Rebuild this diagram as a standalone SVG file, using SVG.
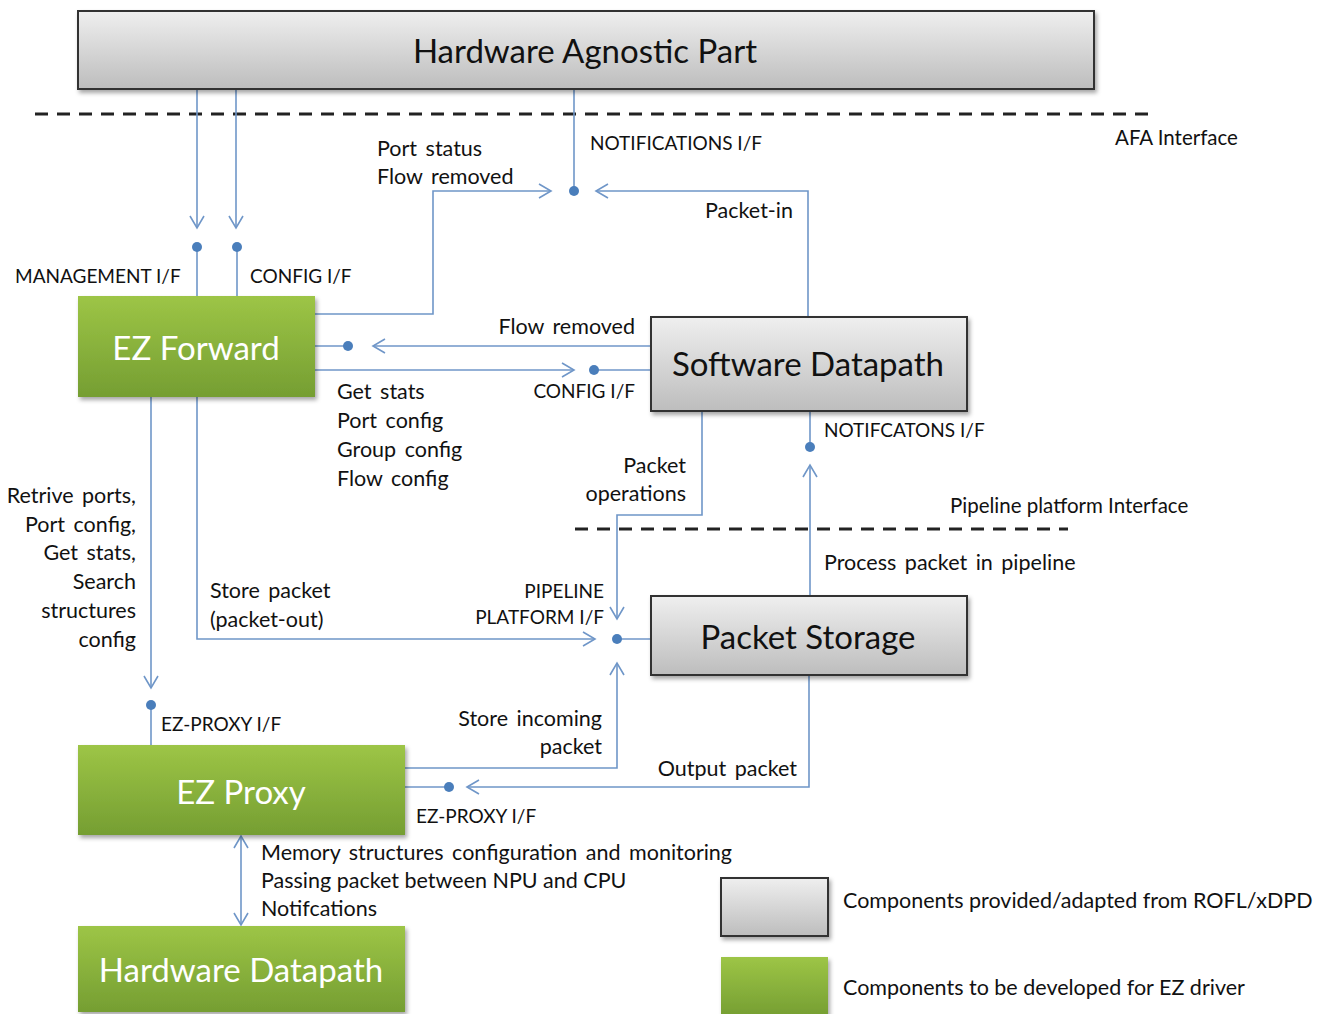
<svg xmlns="http://www.w3.org/2000/svg" width="1333" height="1014" viewBox="0 0 1333 1014">
  <defs>
    <linearGradient id="grayFill" x1="0" y1="0" x2="0" y2="1">
      <stop offset="0" stop-color="#efefef"/>
      <stop offset="1" stop-color="#bdbdbd"/>
    </linearGradient>
    <linearGradient id="greenFill" x1="0" y1="0" x2="0" y2="1">
      <stop offset="0" stop-color="#9dc546"/>
      <stop offset="1" stop-color="#759e32"/>
    </linearGradient>
    <filter id="shadow" x="-5%" y="-10%" width="115%" height="130%">
      <feDropShadow dx="2" dy="3" stdDeviation="2" flood-color="#000" flood-opacity="0.35"/>
    </filter>
    <marker id="chev" viewBox="-13 -8 15 16" markerWidth="15" markerHeight="16" refX="0" refY="0" orient="auto-start-reverse" markerUnits="userSpaceOnUse">
      <path d="M-12,-7 L0,0 L-12,7" fill="none" stroke="#6f96c8" stroke-width="1.6"/>
    </marker>
  </defs>
  <style>
    .gray { fill: url(#grayFill); stroke: #333; stroke-width: 2; filter: url(#shadow); }
    .green { fill: url(#greenFill); stroke: none; filter: url(#shadow); }
    .title { font-family: Lato, "Open Sans", sans-serif; font-size: 33px; text-anchor: middle; dominant-baseline: central; }
    .dark { fill: #111; }
    .light { fill: #fff; }
    .lbl { font-family: Lato, "Open Sans", sans-serif; font-size: 21.5px; word-spacing: 3px; fill: #111; }
    .tight { word-spacing: 0px; }
    .caps { font-family: Lato, "Open Sans", sans-serif; font-size: 19px; fill: #111; }
    .iface { font-family: Lato, "Open Sans", sans-serif; font-size: 20.5px; fill: #111; }
    .end { text-anchor: end; }
    .wire { fill: none; stroke: #6f96c8; stroke-width: 1.6; }
    .arrow { marker-end: url(#chev); }
    .dot { fill: #4a7ebb; }
    .dash { stroke: #222; stroke-width: 3; stroke-dasharray: 13 9; fill: none; }
  </style>

  <!-- interface boundaries -->
  <g id="boundaries">
    <line class="dash" x1="35" y1="114" x2="1155" y2="114"/>
    <line class="dash" x1="575" y1="529" x2="1068" y2="529"/>
  </g>

  <!-- connectors -->
  <g id="connectors">
    <!-- management / config from agnostic part -->
    <line class="wire arrow" x1="197" y1="89" x2="197" y2="228"/>
    <line class="wire arrow" x1="236" y1="89" x2="236" y2="228"/>
    <line class="wire" x1="197" y1="247" x2="197" y2="296"/>
    <line class="wire" x1="237" y1="247" x2="237" y2="296"/>
    <circle class="dot" cx="197" cy="247" r="5"/>
    <circle class="dot" cx="237" cy="247" r="5"/>

    <!-- notifications toward agnostic part -->
    <polyline class="wire arrow" points="315,314 433,314 433,191 551,191"/>
    <polyline class="wire arrow" points="808,317 808,191 596,191"/>
    <line class="wire" x1="574" y1="89" x2="574" y2="191"/>
    <circle class="dot" cx="574" cy="191" r="5"/>

    <!-- flow removed -->
    <line class="wire arrow" x1="651" y1="346" x2="373" y2="346"/>
    <line class="wire" x1="315" y1="346" x2="348" y2="346"/>
    <circle class="dot" cx="348" cy="346" r="5"/>

    <!-- config to software datapath -->
    <line class="wire arrow" x1="315" y1="370" x2="574" y2="370"/>
    <line class="wire" x1="594" y1="370" x2="651" y2="370"/>
    <circle class="dot" cx="594" cy="370" r="5"/>

    <!-- packet operations to pipeline platform -->
    <polyline class="wire arrow" points="702,411 702,515 617,515 617,619"/>
    <line class="wire" x1="617" y1="639" x2="651" y2="639"/>
    <circle class="dot" cx="617" cy="639" r="5"/>

    <!-- pipeline notifications -->
    <line class="wire" x1="810" y1="411" x2="810" y2="447"/>
    <circle class="dot" cx="810" cy="447" r="5"/>
    <line class="wire arrow" x1="810" y1="596" x2="810" y2="465"/>

    <!-- EZ Forward to EZ Proxy -->
    <line class="wire arrow" x1="151" y1="397" x2="151" y2="688"/>
    <line class="wire" x1="151" y1="705" x2="151" y2="745"/>
    <circle class="dot" cx="151" cy="705" r="5"/>

    <!-- store packet (packet-out) -->
    <polyline class="wire arrow" points="197,397 197,639 595,639"/>

    <!-- store incoming packet -->
    <polyline class="wire arrow" points="405,768 617,768 617,663"/>

    <!-- output packet -->
    <polyline class="wire arrow" points="809,675 809,787 467,787"/>
    <line class="wire" x1="405" y1="787" x2="449" y2="787"/>
    <circle class="dot" cx="449" cy="787" r="5"/>

    <!-- EZ Proxy to hardware datapath -->
    <line class="wire" x1="241" y1="836" x2="241" y2="925" marker-start="url(#chev)" marker-end="url(#chev)"/>
  </g>

  <!-- nodes -->
  <g id="hardware-agnostic-part">
    <rect class="gray" x="78" y="11" width="1016" height="78"/>
    <text class="title dark" x="585" y="50">Hardware Agnostic Part</text>
  </g>

  <g id="ez-forward">
    <rect class="green" x="78" y="296" width="237" height="101"/>
    <text class="title light" x="196" y="347">EZ Forward</text>
  </g>

  <g id="software-datapath">
    <rect class="gray" x="651" y="317" width="316" height="94"/>
    <text class="title dark" x="808" y="363">Software Datapath</text>
  </g>

  <g id="packet-storage">
    <rect class="gray" x="651" y="596" width="316" height="79"/>
    <text class="title dark" x="808" y="636">Packet Storage</text>
  </g>

  <g id="ez-proxy">
    <rect class="green" x="78" y="745" width="327" height="90"/>
    <text class="title light" x="241" y="791">EZ Proxy</text>
  </g>

  <g id="hardware-datapath">
    <rect class="green" x="78" y="926" width="327" height="86"/>
    <text class="title light" x="241" y="969">Hardware Datapath</text>
  </g>

  <!-- labels -->
  <g id="labels">
    <text class="iface" x="1115" y="145">AFA Interface</text>
    <text class="caps" x="15" y="283">MANAGEMENT I/F</text>
    <text class="caps" x="250" y="283">CONFIG I/F</text>
    <text class="lbl" x="377" y="156">Port status</text>
    <text class="lbl" x="377" y="184">Flow removed</text>
    <text class="caps" x="590" y="150">NOTIFICATIONS I/F</text>
    <text class="lbl end" x="793" y="218">Packet-in</text>
    <text class="lbl end" x="635" y="334">Flow removed</text>
    <text class="caps end" x="635" y="398">CONFIG I/F</text>
    <text class="lbl" x="337" y="399">Get stats</text>
    <text class="lbl" x="337" y="428">Port config</text>
    <text class="lbl" x="337" y="457">Group config</text>
    <text class="lbl" x="337" y="486">Flow config</text>
    <text class="caps" x="824" y="437">NOTIFCATONS I/F</text>
    <text class="lbl end" x="686" y="473">Packet</text>
    <text class="lbl end" x="686" y="501">operations</text>
    <text class="iface" x="950" y="513">Pipeline platform Interface</text>
    <text class="lbl" x="824" y="570">Process packet in pipeline</text>
    <text class="caps end" x="604" y="598">PIPELINE</text>
    <text class="caps end" x="604" y="624">PLATFORM I/F</text>
    <text class="lbl end" x="136" y="503">Retrive ports,</text>
    <text class="lbl end" x="136" y="532">Port config,</text>
    <text class="lbl end" x="136" y="560">Get stats,</text>
    <text class="lbl end" x="136" y="589">Search</text>
    <text class="lbl end" x="136" y="618">structures</text>
    <text class="lbl end" x="136" y="647">config</text>
    <text class="lbl" x="210" y="598">Store packet</text>
    <text class="lbl" x="210" y="627">(packet-out)</text>
    <text class="caps" x="161" y="731">EZ-PROXY I/F</text>
    <text class="lbl end" x="602" y="726">Store incoming</text>
    <text class="lbl end" x="602" y="754">packet</text>
    <text class="lbl end" x="797" y="776">Output packet</text>
    <text class="caps" x="416" y="823">EZ-PROXY I/F</text>
    <text class="lbl" x="261" y="860">Memory structures configuration and monitoring</text>
    <text class="lbl tight" x="261" y="888">Passing packet between NPU and CPU</text>
    <text class="lbl" x="261" y="916">Notifcations</text>
  </g>

  <!-- legend -->
  <g id="legend">
    <rect class="gray" x="721" y="878" width="107" height="58"/>
    <text class="lbl tight" x="843" y="908">Components provided/adapted from ROFL/xDPD</text>
    <rect class="green" x="721" y="957" width="107" height="60"/>
    <text class="lbl tight" x="843" y="995">Components to be developed for EZ driver</text>
  </g>
</svg>
